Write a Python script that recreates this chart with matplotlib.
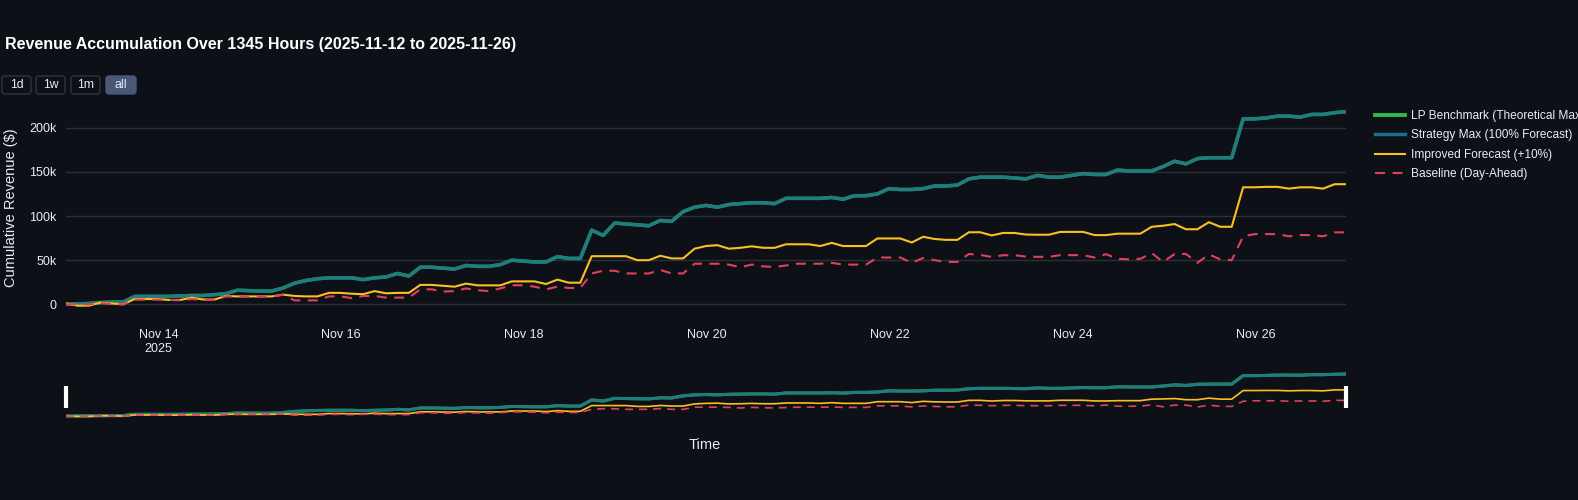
import numpy as np
import pandas as pd
import matplotlib
matplotlib.use("Agg")
import matplotlib.pyplot as plt
from matplotlib.patches import FancyBboxPatch

plt.rcParams['font.family'] = ['Liberation Sans', 'DejaVu Sans']

# Dados (valores a cada 3 horas, em milhares de $)
times = pd.date_range('2025-11-12 23:45', periods=113, freq='3h')

strategy_max = [
    0, 0.5, 1, 2, 2.5, 2.6, 9, 9, 9, 9, 9.5, 10, 10, 11, 12, 16, 15.5, 15, 15, 18.5,
    24, 27, 29, 30, 30, 30, 28, 30, 31, 35, 32, 42, 42, 41, 40, 44, 43, 43, 45, 50,
    49, 48, 48, 54, 52, 52, 84, 78, 92, 91, 90, 89, 95, 94, 105, 110, 112, 110, 113, 114,
    115, 115, 114, 120, 120, 120, 120, 121, 119, 123, 123, 125, 131, 130, 130, 131, 134, 134, 135, 142,
    144, 144, 144, 143, 142, 146, 144, 144, 146, 148, 147, 147, 152, 151, 151, 151, 156, 162, 159, 165,
    166, 166, 166, 210, 210, 211, 213, 213, 212, 215, 215, 217, 218,
]
lp_benchmark = list(strategy_max)

improved = [
    1, -1.5, -1.5, 2, 1, 0, 6, 6, 6, 5, 5, 7.5, 5.5, 5.5, 9.5, 9, 9, 9, 9, 11,
    9.5, 9, 9, 13, 13, 12, 11.5, 15, 12.5, 13, 13, 22, 22, 21, 20, 23.5, 21.5, 21.5, 21.5, 26,
    26, 26, 23, 28, 24.5, 24.5, 54.5, 54.5, 54.5, 54.5, 50, 50, 55, 52, 52, 63, 66, 67, 63, 64,
    65.7, 64, 64, 68, 68, 68, 66, 69.6, 66, 66, 66, 74.6, 74.6, 74.6, 70, 76.5, 74, 73, 73, 81.6,
    81.6, 78, 80.8, 80.8, 79, 78.8, 78.8, 82, 82, 82, 78.4, 78.4, 80, 80, 80, 87.8, 89, 90.9, 85, 85,
    93, 87.8, 87.8, 132.5, 132.5, 133, 133, 131, 132.5, 132.5, 131, 136, 136,
]

baseline = [
    0, 0, 0, 1.5, 0.5, 0, 5.3, 5.3, 5.3, 5, 4.5, 6, 5, 5, 9, 9, 9, 9, 9, 11,
    4.5, 4.5, 4.5, 9, 9, 7, 9.5, 9.5, 7.6, 7.6, 7.6, 17, 17, 14.5, 15, 18, 16, 15, 18, 21.6,
    21.6, 20, 17, 20, 18.5, 18.5, 35, 38, 38, 35, 35, 35, 39, 35, 35, 46, 46, 46, 45, 42,
    45, 43, 42.3, 44, 46, 46, 46, 47, 45, 45, 45, 53, 53, 53, 47, 52.5, 50, 48, 48, 57,
    56, 53.6, 55.6, 55.6, 54, 53.8, 53.8, 55.7, 55.7, 55.7, 53, 56.8, 51.5, 51, 51.5, 58, 48, 57, 57, 47,
    56.5, 51, 50, 77, 79.5, 79.5, 79.5, 77, 78.4, 78.4, 77, 81.5, 81.5,
]

series_names = ['LP Benchmark (Theoretical Max)', 'Strategy Max (100% Forecast)',
                'Improved Forecast (+10%)', 'Baseline (Day-Ahead)']
yticks = [0, 50000, 100000, 150000, 200000]
ytick_labels = ['0', '50k', '100k', '150k', '200k']
xtick_dates = pd.to_datetime(['2025-11-14', '2025-11-16', '2025-11-18', '2025-11-20',
                              '2025-11-22', '2025-11-24', '2025-11-26'])
xtick_labels = ['Nov 14\n2025', 'Nov 16', 'Nov 18', 'Nov 20', 'Nov 22', 'Nov 24', 'Nov 26']
buttons = ['1d', '1w', '1m', 'all']

# Cores
bg = '#0d1117'
grid_c = '#2b3038'
text_c = '#e6edf3'
c_lp = '#2fb84f'
c_max = '#1b6f8a'
c_imp = '#fbbf24'
c_base = '#e0405a'

lp = np.array(lp_benchmark) * 1000
smax = np.array(strategy_max) * 1000
imp = np.array(improved) * 1000
base = np.array(baseline) * 1000

W, H = 1578, 500
fig = plt.figure(figsize=(W / 100, H / 100), dpi=100)
fig.patch.set_facecolor(bg)

def px_axes(left, top, right, bottom):
    return fig.add_axes([left / W, 1 - bottom / H, (right - left) / W, (bottom - top) / H])

# Gráfico principal
ax = px_axes(66, 110, 1346, 307)
ax.set_facecolor(bg)
l1, = ax.plot(times, lp, color=c_lp, lw=2.5)
l2, = ax.plot(times, smax, color=c_max, lw=2.5, alpha=0.8)
l3, = ax.plot(times, imp, color=c_imp, lw=1.5)
l4, = ax.plot(times, base, color=c_base, lw=1.5, linestyle=(0, (4.8, 3.6)))
ax.set_xlim(times[0], times[-1])
ax.set_ylim(-3000, 220000)
ax.set_yticks(yticks)
ax.set_yticklabels(ytick_labels)
ax.set_xticks(xtick_dates)
ax.set_xticklabels(xtick_labels)
ax.grid(axis='y', color=grid_c, lw=1)
ax.grid(axis='x', visible=False)
ax.tick_params(axis='both', length=0, colors=text_c, labelsize=9)
ax.tick_params(axis='x', pad=16)
ax.tick_params(axis='y', pad=7)
for s in ax.spines.values():
    s.set_visible(False)

# Legenda
leg_lines = [l1, l2, l3, l4]
leg = fig.legend(leg_lines, series_names, loc='upper left',
                 bbox_to_anchor=(1375 / W, 1 - 110 / H), frameon=False,
                 fontsize=8.6, handlelength=2.5, handletextpad=0.55,
                 labelspacing=0.62, borderpad=0, borderaxespad=0)
for t in leg.get_texts():
    t.set_color(text_c)
leg.legend_handles[0].set_linewidth(2.8)
leg.legend_handles[1].set_alpha(1)

# Range slider
sl = px_axes(66, 371, 1346, 423)
sl.set_facecolor(bg)
sl.plot(times, lp, color=c_lp, lw=2.2)
sl.plot(times, smax, color=c_max, lw=2.2, alpha=0.8)
sl.plot(times, imp, color=c_imp, lw=1.2)
sl.plot(times, base, color=c_base, lw=1.2, linestyle=(0, (4.8, 3.6)))
sl.set_xlim(times[0], times[-1])
sl.set_ylim(-36000, 234000)
sl.set_xticks([])
sl.set_yticks([])
for s in sl.spines.values():
    s.set_visible(False)
for xe in [times[0], times[-1]]:
    sl.axvline(xe, ymin=0.29, ymax=0.71, color='white', lw=3, clip_on=False,
               solid_capstyle='butt')

# Camada de texto e botões (coordenadas em pixels)
ov = fig.add_axes([0, 0, 1, 1])
ov.set_xlim(0, W)
ov.set_ylim(H, 0)
ov.axis('off')
ov.patch.set_alpha(0)

ov.text(5, 44, 'Revenue Accumulation Over 1345 Hours (2025-11-12 to 2025-11-26)',
        color='white', fontsize=11.5, fontweight='bold', va='center', ha='left')
ov.text(11, 208, 'Cumulative Revenue ($)', color=text_c, fontsize=10.5,
        rotation=90, ha='center', va='center')
ov.text(705, 445, 'Time', color=text_c, fontsize=10.5, ha='center', va='center')

bx = [2, 36, 71, 106]
bw = [29, 29, 29, 30]
for i, lab in enumerate(buttons):
    active = lab == 'all'
    p = FancyBboxPatch((bx[i], 76), bw[i], 18, boxstyle='round,pad=0,rounding_size=3',
                       facecolor='#4a5878' if active else bg,
                       edgecolor='#4a5878' if active else '#30363d', lw=1)
    ov.add_patch(p)
    ov.text(bx[i] + bw[i] / 2, 85.5, lab, color=text_c, fontsize=8.8,
            ha='center', va='center')

fig.savefig('out.png', dpi=100, facecolor=bg)
